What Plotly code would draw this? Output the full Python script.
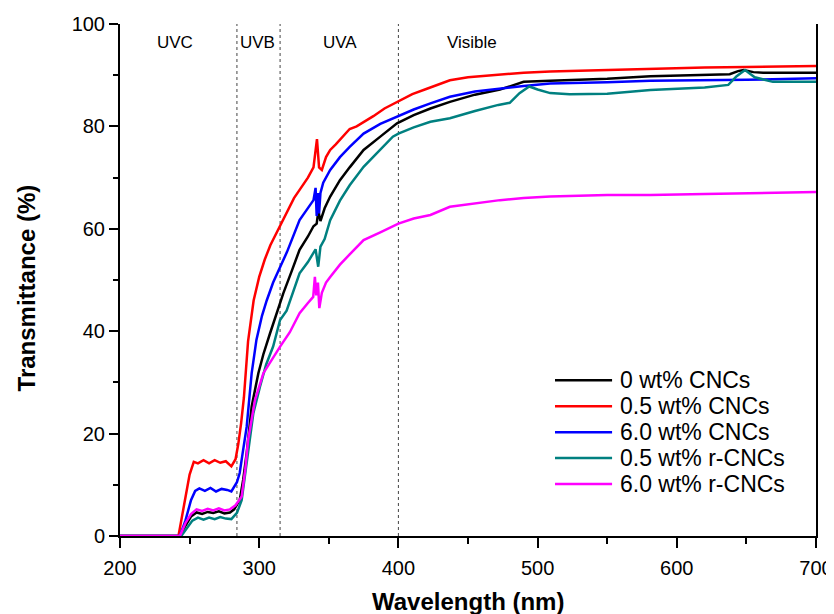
import plotly.graph_objects as go

# ---- data ----
names = ["0 wt% CNCs", "0.5 wt% CNCs", "6.0 wt% CNCs", "0.5 wt% r-CNCs", "6.0 wt% r-CNCs"]
colors = ["#000000", "#ff0000", "#0000ff", "#008080", "#ff00ff"]

wl_black = [200, 243, 247, 251, 255, 259, 263, 267, 271, 275, 279, 282, 286, 288.5, 291, 294.6, 299.4, 303,
            307.8, 312, 317.3, 323, 329, 335, 339, 341.3, 342.5, 344, 345, 347, 351, 358, 365, 375, 387, 399,
            411, 423, 437, 455, 473, 483, 490, 509, 550, 581, 620, 638, 644, 648, 655, 662, 680, 700]
t_black = [0, 0, 2, 3.8, 4.6, 4.3, 4.7, 4.5, 4.8, 4.4, 4.6, 5.2, 7, 11, 16.2, 25.3, 31.8, 35.5,
           39.6, 43, 47.4, 51.5, 55.9, 58.5, 60.5, 61, 63.5, 61.5, 62.5, 64, 66.3, 69.5, 72, 75.4, 78, 80.6,
           82.2, 83.5, 84.8, 86.2, 87.2, 88, 88.7, 88.9, 89.3, 89.8, 90, 90.2, 90.8, 91, 90.6, 90.5, 90.5, 90.5]

wl_red = [200, 242, 246, 250, 253, 256, 260, 264, 268, 272, 276, 280, 283, 285, 287, 289, 292, 296, 300, 304,
          308, 315, 320, 325, 330, 335, 339, 341.5, 343, 345, 348, 351, 355, 360, 365, 370, 375, 382, 390, 399,
          410, 420, 437, 450, 473, 490, 509, 550, 581, 620, 650, 700]
t_red = [0, 0, 6, 12, 14.5, 14.2, 14.8, 14.2, 14.8, 14.3, 14.6, 13.6, 15, 18, 22, 27, 38, 46, 50.6, 54,
         56.8, 60.6, 63.5, 66, 68, 70, 72, 77.5, 72, 71.5, 74, 75.4, 76.5, 78, 79.5, 80, 80.8, 82, 83.5, 84.8,
         86.3, 87.3, 89, 89.6, 90.2, 90.5, 90.7, 91, 91.3, 91.5, 91.6, 91.8]

wl_blue = [200, 243, 247, 251, 254, 257, 261, 265, 269, 273, 277, 280, 284, 286, 288, 291, 294.6, 298, 302,
           305.4, 310, 315, 320, 329, 335, 339, 340.5, 341.3, 342.2, 343, 344, 346, 351, 358, 365, 375, 387,
           399, 411, 423, 437, 455, 473, 490, 509, 550, 581, 650, 700]
t_blue = [0, 0, 3, 7, 8.8, 9.3, 8.8, 9.4, 8.7, 9.2, 9, 8.7, 10.5, 12.3, 16, 21.3, 31.8, 38.3, 43,
          46, 49.5, 52.6, 55.5, 61.7, 64, 65.6, 68, 62.5, 67, 63, 67, 69, 71.5, 74, 76, 78.6, 80.5,
          81.9, 83.3, 84.5, 85.8, 86.8, 87.4, 87.9, 88.4, 88.6, 88.9, 89.1, 89.4]

wl_teal = [200, 244, 248, 252, 256, 260, 264, 268, 272, 276, 280, 284, 287.4, 290, 292, 295.8, 300.6, 305,
           310, 315, 319.7, 325, 329, 335, 338.8, 340.5, 342.4, 344, 347, 351, 358, 365, 375, 387, 396, 400,
           411, 423, 437, 455, 471.8, 480, 487, 494, 500, 509, 523, 550, 581, 620, 637, 643, 649, 656, 669, 700]
t_teal = [0, 0, 1.5, 3, 3.6, 3.2, 3.6, 3.3, 3.7, 3.4, 3.3, 4.5, 7, 12, 16.2, 24, 29.2, 33.5,
          37, 42.2, 44, 48, 51.3, 53.5, 55.2, 56, 52.6, 56.5, 58, 61.7, 65.5, 68.5, 72.1, 75.5, 78, 78.6,
          79.8, 80.9, 81.6, 83, 84.2, 84.6, 86.5, 87.8, 87.2, 86.5, 86.3, 86.4, 87.1, 87.6, 88.1, 89.8, 91, 89.6, 88.7, 88.7]

wl_mag = [200, 243, 247, 251, 255, 259, 263, 267, 271, 275, 279, 283, 287.4, 290, 292, 297, 303, 309, 315,
          322, 329, 335, 338.8, 340, 341, 342.2, 343.2, 345, 348, 351, 358, 365, 375, 387, 400, 411, 423,
          437, 455, 473, 490, 509, 550, 581, 620, 660, 700]
t_mag = [0, 0, 2.5, 4.3, 5.2, 4.9, 5.3, 5, 5.4, 5, 5.2, 6, 7.7, 13, 18.7, 26.6, 31.8, 34.5, 37,
         39.8, 43.5, 45.5, 46.7, 50.6, 47, 49.5, 44.5, 47.5, 49.5, 50.6, 53, 55, 57.8, 59.3, 61, 62, 62.7,
         64.3, 65, 65.6, 66, 66.3, 66.6, 66.6, 66.8, 67, 67.2]

region_bounds = [284, 315, 400]
region_labels = ["UVC", "UVB", "UVA", "Visible"]
region_label_x = [239.5, 299, 358, 453]

x_ticks = [200, 300, 400, 500, 600, 700]
y_ticks = [0, 20, 40, 60, 80, 100]

series_x = [wl_black, wl_red, wl_blue, wl_teal, wl_mag]
series_y = [t_black, t_red, t_blue, t_teal, t_mag]

FONT = "Liberation Sans, Arial, sans-serif"

fig = go.Figure()
for nm, c, xs, ys in zip(names, colors, series_x, series_y):
    fig.add_trace(go.Scatter(x=xs, y=ys, mode="lines", name=nm, showlegend=False,
                             line=dict(color=c, width=2.5)))

for b in region_bounds:
    fig.add_shape(type="line", x0=b, x1=b, y0=0, y1=100, xref="x", yref="y",
                  line=dict(color="#444444", width=1, dash="dot"), layer="below")

for lab, lx in zip(region_labels, region_label_x):
    fig.add_annotation(x=lx, y=96.3, xref="x", yref="y", text=lab, showarrow=False,
                       font=dict(family=FONT, size=17, color="black"))

# legend (drawn to match the reference's tight row spacing), in plot-area fractions
leg_x0, leg_x1, leg_tx = 0.625, 0.707, 0.7155
leg_y_top, leg_dy = 0.304, 0.0506
for i, (nm, c) in enumerate(zip(names, colors)):
    yy = leg_y_top - i * leg_dy
    fig.add_shape(type="line", xref="paper", yref="paper", x0=leg_x0, x1=leg_x1, y0=yy, y1=yy,
                  line=dict(color=c, width=2.5))
    fig.add_annotation(xref="paper", yref="paper", x=leg_tx, y=yy, text=nm, showarrow=False,
                       xanchor="left", yanchor="middle",
                       font=dict(family=FONT, size=23, color="black"))

# axis titles
fig.add_annotation(xref="paper", yref="paper", x=0.5, y=-0.127, text="<b>Wavelength (nm)</b>",
                   showarrow=False, xanchor="center", yanchor="middle",
                   font=dict(family=FONT, size=24, color="black"))
fig.add_annotation(xref="paper", yref="paper", x=-0.134, y=0.485, text="<b>Transmittance (%)</b>",
                   showarrow=False, xanchor="center", yanchor="middle", textangle=-90,
                   font=dict(family=FONT, size=24, color="black"))

fig.update_layout(
    width=834, height=614,
    margin=dict(l=112, r=26, t=16, b=86),
    paper_bgcolor="white", plot_bgcolor="white",
    font=dict(family=FONT, color="black"),
    showlegend=False,
    xaxis=dict(range=[200, 700], tickvals=x_ticks, ticktext=[str(v) for v in x_ticks],
               automargin=False,
               showline=True, linecolor="black", linewidth=2, mirror=False,
               ticks="outside", ticklen=10, tickwidth=2, tickcolor="black",
               minor=dict(ticks="outside", ticklen=6, tickwidth=1.5, tickcolor="black", dtick=50, tick0=200, showgrid=False),
               showgrid=False, zeroline=False, ticklabelstandoff=3,
               tickfont=dict(family=FONT, size=20, color="black")),
    yaxis=dict(range=[0, 100], tickvals=y_ticks, ticktext=[str(v) for v in y_ticks],
               automargin=False,
               showline=True, linecolor="black", linewidth=2, mirror=True,
               ticks="outside", ticklen=9, tickwidth=2, tickcolor="black",
               minor=dict(ticks="outside", ticklen=5, tickwidth=1.5, tickcolor="black", dtick=10, tick0=0, showgrid=False),
               showgrid=False, zeroline=False,
               tickfont=dict(family=FONT, size=20, color="black")),
)

fig.write_html("out.html")
